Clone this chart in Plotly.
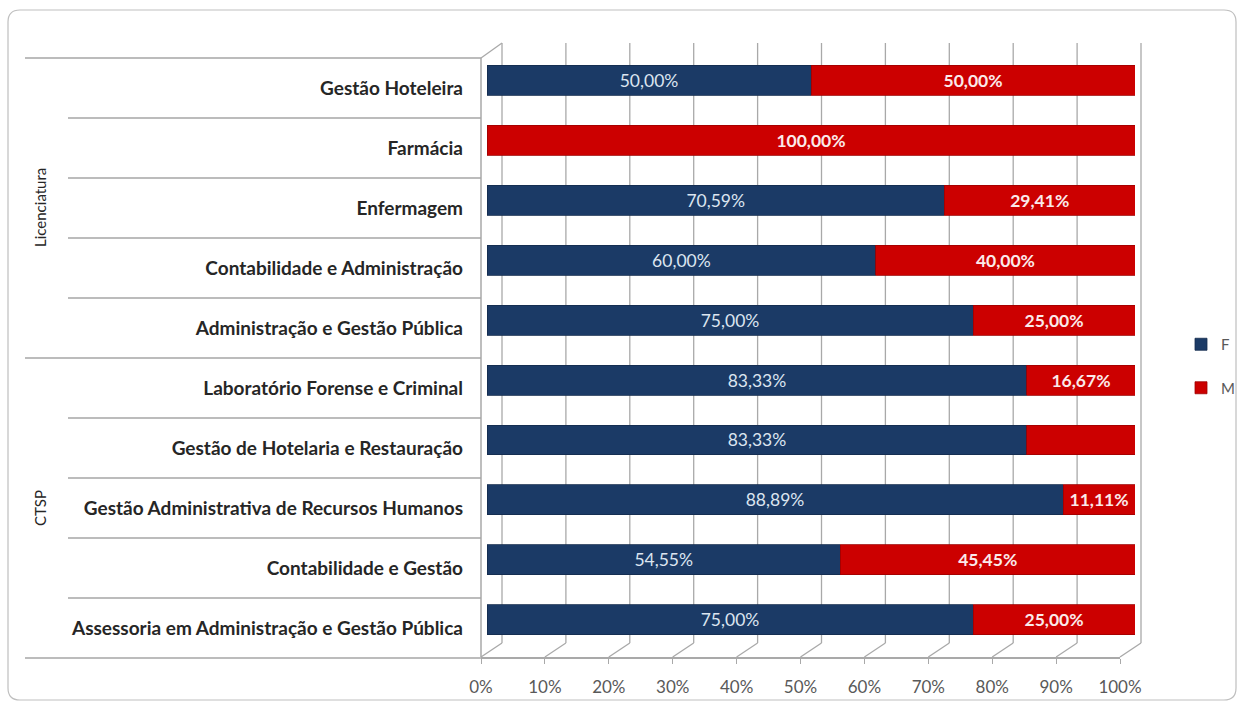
import plotly.graph_objects as go

# ---------------- data (top to bottom as shown) ----------------
courses = [
    "Gestão Hoteleira",
    "Farmácia",
    "Enfermagem",
    "Contabilidade e Administração",
    "Administração e Gestão Pública",
    "Laboratório Forense e Criminal",
    "Gestão de Hotelaria e Restauração",
    "Gestão Administrativa de Recursos Humanos",
    "Contabilidade e Gestão",
    "Assessoria em Administração e Gestão Pública",
]
groups = ["Licenciatura", "CTSP"]
group_sizes = [5, 5]
f_values = [50.00, 0.00, 70.59, 60.00, 75.00, 83.33, 83.33, 88.89, 54.55, 75.00]
m_values = [50.00, 100.00, 29.41, 40.00, 25.00, 16.67, 16.67, 11.11, 45.45, 25.00]
m_label_shown = [True, True, True, True, True, True, False, True, True, True]
x_ticks = [0, 10, 20, 30, 40, 50, 60, 70, 80, 90, 100]
x_ticktext = [f"{v}%" for v in x_ticks]

# ---------------- geometry helpers (pixel -> paper) ----------------
W, H = 1243, 706
PL, PR, PT, PB = 481, 1135, 43, 657
BAR_X0 = 487          # front edge of the bars (0%)
FLOOR_X1 = 1120       # front floor (100%)


def xp(px):
    return (px - PL) / (PR - PL)


def yp(py):
    return (PB - py) / (PB - PT)


n = len(courses)
ypos = [n - 1 - i for i in range(n)]
fmt = lambda v: f"{v:.2f}".replace(".", ",") + "%"
f_text = [fmt(v) if v > 0 else "" for v in f_values]
m_text = [fmt(v) if (v > 0 and s) else "" for v, s in zip(m_values, m_label_shown)]

fig = go.Figure()
fig.add_trace(go.Bar(
    name="F", y=ypos, x=f_values, orientation="h", width=0.5,
    marker=dict(color="#1B3A66", line=dict(color="#142C4E", width=0.8)),
    text=f_text, textposition="inside", insidetextanchor="middle", textangle=0,
    textfont=dict(family="Lato", size=17.5, color="#DCE5F0"),
    legendgroup="F", hoverinfo="x+name",
))
fig.add_trace(go.Bar(
    name="M", y=ypos, x=m_values, orientation="h", width=0.5,
    marker=dict(color="#CC0000", line=dict(color="#9E0000", width=0.8)),
    text=m_text, textposition="inside", insidetextanchor="middle", textangle=0,
    textfont=dict(family="Lato", size=17.5, color="#FBEAEA", weight="bold"),
    legendgroup="M", hoverinfo="x+name",
))
# empty trace that carries the front-floor axis (tick labels)
fig.add_trace(go.Scatter(x=[], y=[], xaxis="x2", yaxis="y", showlegend=False,
                         hoverinfo="skip"))

shapes = []
grid_col = "#A9A9A9"
# back-wall gridlines and floor slants (3D look)
back_x0, back_dx, back_top, back_bot = 502, 63.9, 43, 643
front_x0, front_dx, floor_y = 481, (FLOOR_X1 - 481) / 10, 657
for k in range(len(x_ticks)):
    bx = back_x0 + back_dx * k
    fx = front_x0 + front_dx * k
    shapes.append(dict(type="line", xref="paper", yref="paper", layer="below",
                       x0=xp(bx), x1=xp(bx), y0=yp(back_top), y1=yp(back_bot),
                       line=dict(color=grid_col, width=1.3)))
    shapes.append(dict(type="line", xref="paper", yref="paper", layer="below",
                       x0=xp(bx), x1=xp(fx), y0=yp(back_bot), y1=yp(floor_y),
                       line=dict(color=grid_col, width=1.3)))
# left wall
shapes.append(dict(type="line", xref="paper", yref="paper", layer="below",
                   x0=xp(481), x1=xp(481), y0=yp(58), y1=yp(floor_y),
                   line=dict(color=grid_col, width=1.5)))
shapes.append(dict(type="line", xref="paper", yref="paper", layer="below",
                   x0=xp(481), x1=xp(back_x0), y0=yp(58), y1=yp(back_top),
                   line=dict(color=grid_col, width=1.3)))

# category separators in the label area
sep_col = "#A6A6A6"
boundaries = [0]
for g in group_sizes:
    boundaries.append(boundaries[-1] + g)
for j in range(n + 1):
    py = 58 + 60 * j
    x_start = 25 if j in boundaries else 68
    shapes.append(dict(type="line", xref="paper", yref="paper",
                       x0=xp(x_start), x1=xp(481), y0=yp(py), y1=yp(py),
                       line=dict(color=sep_col, width=1.6)))

# outer rounded border
x0b, x1b, y0b, y1b, r = 8, 1236, 10, 700, 12
path = (f"M {xp(x0b + r)},{yp(y0b)} L {xp(x1b - r)},{yp(y0b)} "
        f"Q {xp(x1b)},{yp(y0b)} {xp(x1b)},{yp(y0b + r)} "
        f"L {xp(x1b)},{yp(y1b - r)} Q {xp(x1b)},{yp(y1b)} {xp(x1b - r)},{yp(y1b)} "
        f"L {xp(x0b + r)},{yp(y1b)} Q {xp(x0b)},{yp(y1b)} {xp(x0b)},{yp(y1b - r)} "
        f"L {xp(x0b)},{yp(y0b + r)} Q {xp(x0b)},{yp(y0b)} {xp(x0b + r)},{yp(y0b)} Z")
shapes.append(dict(type="path", xref="paper", yref="paper", path=path,
                   line=dict(color="#BFBFBF", width=1.2)))

# group labels
annotations = []
start = 0
for gname, gsize in zip(groups, group_sizes):
    top_py = 58 + 60 * start
    bot_py = 58 + 60 * (start + gsize)
    annotations.append(dict(text=gname, xref="paper", yref="paper",
                            x=xp(40), y=yp((top_py + bot_py) / 2), textangle=-90,
                            showarrow=False, xanchor="center", yanchor="middle",
                            font=dict(family="Lato", size=15, color="#262626")))
    start += gsize

fig.update_layout(
    width=W, height=H,
    margin=dict(l=PL, r=W - PR, t=PT, b=H - PB, autoexpand=False),
    paper_bgcolor="white", plot_bgcolor="rgba(0,0,0,0)",
    barmode="stack", bargap=0.5,
    uniformtext=dict(minsize=17, mode="show"),
    shapes=shapes, annotations=annotations,
    legend=dict(x=xp(1181), y=yp(366), xanchor="left", yanchor="middle",
                font=dict(family="Lato", size=15, color="#595959"),
                tracegroupgap=21, itemwidth=30, bgcolor="rgba(0,0,0,0)"),
    showlegend=True,
    xaxis=dict(domain=[xp(BAR_X0), 1], range=[0, 100], anchor="y", automargin=False,
               showticklabels=False, showgrid=False, zeroline=False,
               showline=False, ticks=""),
    xaxis2=dict(domain=[0, xp(FLOOR_X1)], range=[0, 100], anchor="y", automargin=False,
                tickvals=x_ticks, ticktext=x_ticktext,
                showgrid=False, zeroline=False, showline=True,
                linecolor=grid_col, linewidth=1.5,
                ticks="outside", ticklen=5, tickcolor=grid_col, tickwidth=1.3,
                ticklabelstandoff=9,
                tickfont=dict(family="Lato", size=17, color="#595959")),
    yaxis=dict(range=[-0.617, 9.617], anchor="x", automargin=False,
               tickvals=[v - 8 / 60 for v in ypos], ticktext=courses,
               showgrid=False, zeroline=False, showline=False, ticks="",
               ticklabelstandoff=23,
               tickfont=dict(family="Lato", size=19, color="#262626", weight="bold")),
)

fig.write_html("out.html", config={"displayModeBar": False},
               post_script="document.body.style.margin='0';"
                           "document.body.style.overflow='hidden';")
